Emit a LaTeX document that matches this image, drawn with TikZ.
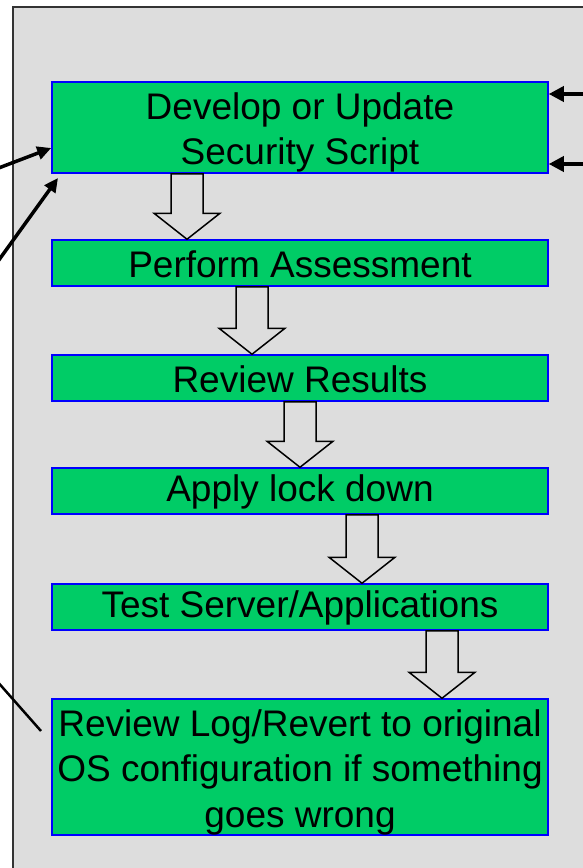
\documentclass[tikz,border=0pt]{standalone}
\usepackage{fontspec}
\setmainfont{Liberation Sans}
\usetikzlibrary{calc}
\usetikzlibrary{arrows.meta}
\definecolor{stagegreen}{RGB}{0,204,102}
\definecolor{panelgray}{RGB}{221,221,221}
\tikzset{
  stage/.style={draw=blue, line width=1.5pt, fill=stagegreen, minimum width=496pt, inner sep=0pt},
  stagetext/.style={inner sep=0pt, align=center, font=\fontsize{37}{45.5}\selectfont},
  loopback/.style={line width=3.5pt, -{Triangle[length=14pt,width=13pt]}},
  feedin/.style={line width=3.5pt, -{Triangle[length=15pt,width=15pt]}},
}
% optional arg: how far the text sits below the box centre
\newcommand{\stagenode}[5][0pt]{ \node[stage, minimum height=#4] (#2) at (300,#3) {};
  \node[stagetext] (#2-text) at ([yshift=-#1]#2.center) {#5};}
\newcommand{\flowarrow}[3]{ \draw[line width=1.5pt, fill=panelgray]
  (#1-16,0 |- #2.south) -- (#1+16,0 |- #2.south) -- ($(#1+16,0 |- #3.north)+(0,-26)$)
  -- ($(#1+33,0 |- #3.north)+(0,-26)$) -- (#1,0 |- #3.north)
  -- ($(#1-33,0 |- #3.north)+(0,-26)$) -- ($(#1-16,0 |- #3.north)+(0,-26)$) -- cycle;}

\begin{document}
\begin{tikzpicture}[x=1pt,y=-1pt]
    \useasboundingbox (0,0) rectangle (582,868);
    % panel
    \draw[line width=1.5pt, draw=black!80, fill=panelgray] (13,7) rectangle (600,890);

    % stages
    \stagenode[5pt]{develop}{127.5}{91}{Develop or Update\\Security Script}
    \stagenode[1pt]{assess}{263}{46}{Perform Assessment}
    \stagenode[1pt]{results}{378}{46}{Review Results}
    \stagenode[1pt]{lockdown}{491}{46}{Apply lock down}
    \stagenode[1pt]{test}{607}{46}{Test Server/Applications}
    \stagenode[5pt]{revert}{767}{136}{Review Log/Revert to original\\OS configuration if something\\goes wrong}

    % steps between stages
    \flowarrow{187}{develop}{assess}
    \flowarrow{252}{assess}{results}
    \flowarrow{300}{results}{lockdown}
    \flowarrow{362}{lockdown}{test}
    \flowarrow{442}{test}{revert}

    % loops coming back in from the left
    \coordinate (inA) at (-4,169);
    \coordinate (inB) at (-4,264);
    \coordinate (outC) at (-4,680);
    \coordinate (outD) at (41,731);
    \draw[loopback] (inA) -- (develop.west |- 0,148);
    \draw[loopback] (inB) -- (58,178);
    \draw[line width=2.5pt] (outC) -- (outD);

    % inputs from the right
    \coordinate (inR1) at (590,94);
    \coordinate (inR2) at (590,164);
    \draw[feedin] (inR1) -- (develop.east |- inR1);
    \draw[feedin] (inR2) -- (develop.east |- inR2);
\end{tikzpicture}
\end{document}
